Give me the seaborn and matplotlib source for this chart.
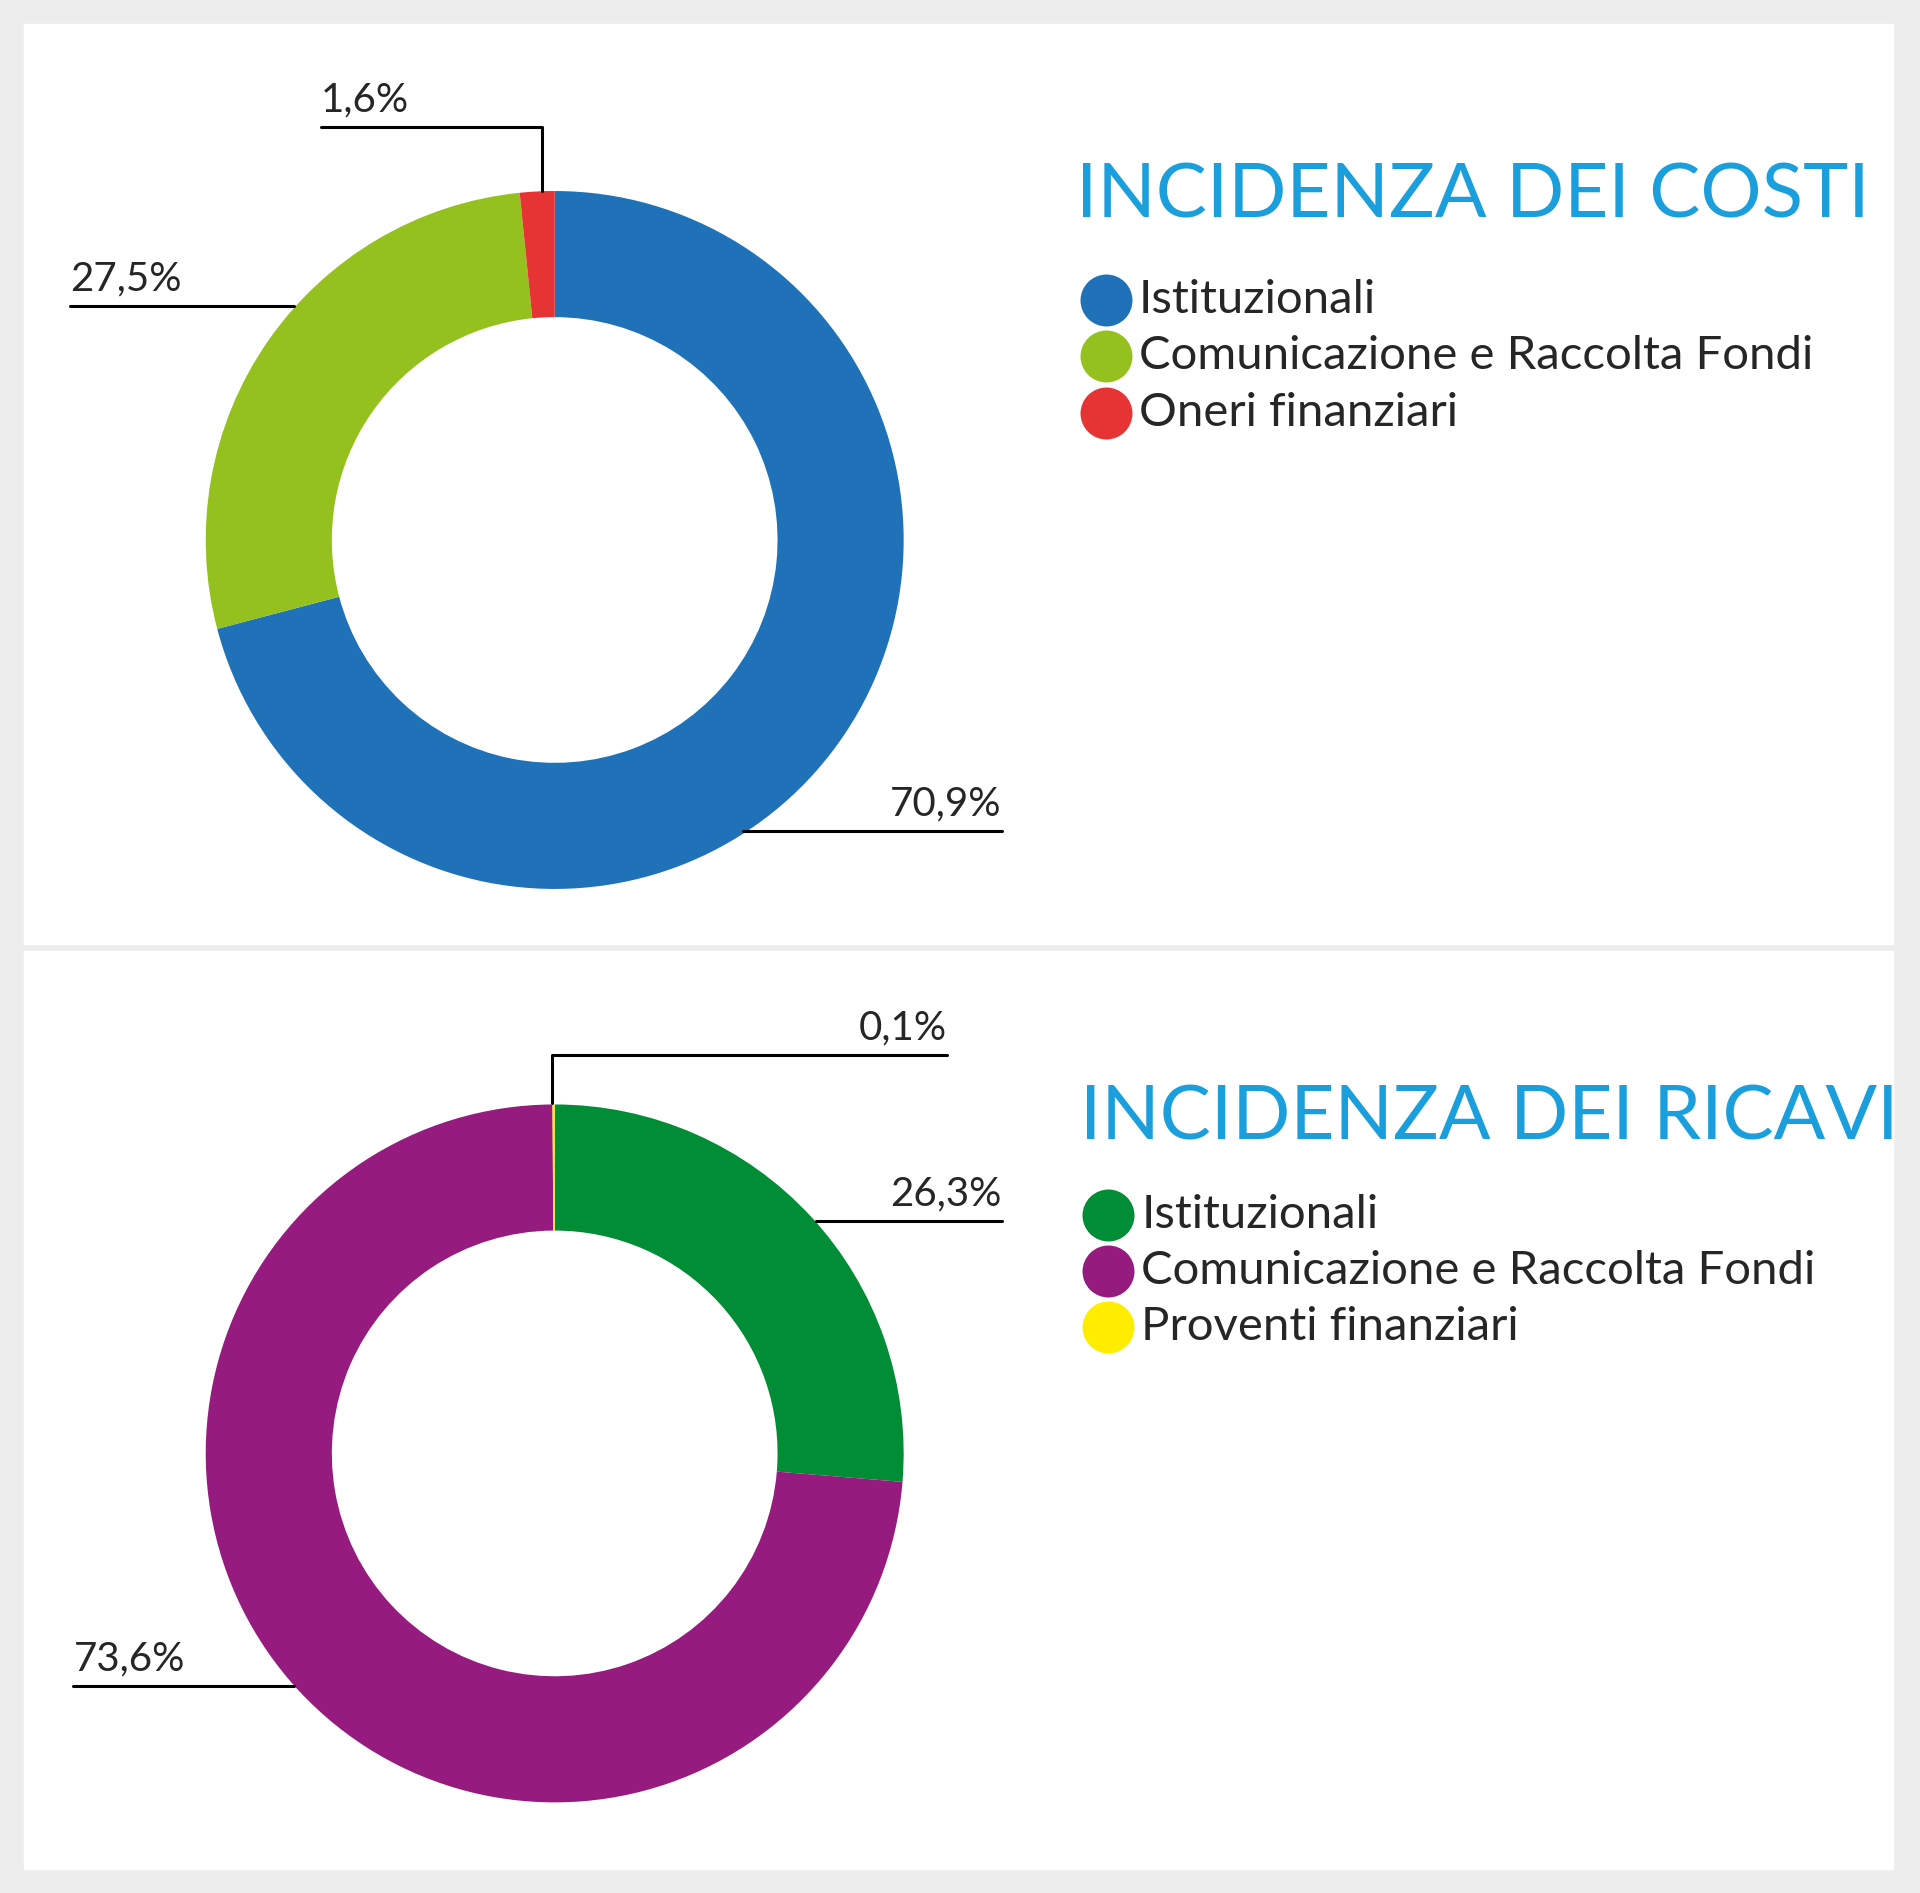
import matplotlib
matplotlib.use("Agg")
import matplotlib.pyplot as plt
import seaborn as sns
from matplotlib.patches import Rectangle

sns.set_theme(style="white")
plt.rcParams["font.family"] = "Lato"

cost_labels = ["Istituzionali", "Comunicazione e Raccolta Fondi", "Oneri finanziari"]
cost_values = [70.9, 27.5, 1.6]
cost_texts = ["70,9%", "27,5%", "1,6%"]
rev_labels = ["Istituzionali", "Comunicazione e Raccolta Fondi", "Proventi finanziari"]
rev_values = [26.3, 73.6, 0.1]
rev_texts = ["26,3%", "73,6%", "0,1%"]
cost_colors = ["#1f72b8", "#95c11f", "#e63434"]
rev_colors = ["#008d36", "#951b7e", "#ffed00"]

W, H = 1568, 1546
fig = plt.figure(figsize=(19.2, 18.93), dpi=100, facecolor="#ededed")
ax = fig.add_axes([0, 0, 1, 1])
ax.set_xlim(0, W); ax.set_ylim(0, H); ax.axis("off")
Y = lambda y: H - y

ax.add_patch(Rectangle((20, Y(771)), 1526, 751, color="white", zorder=0))
ax.add_patch(Rectangle((20, Y(1526)), 1526, 749, color="white", zorder=0))

def donut(cy, vals, cols):
    ax.pie(vals, colors=cols, center=(453, Y(cy)), radius=285, startangle=90,
           counterclock=False, wedgeprops=dict(width=103, linewidth=0), frame=True)

donut(441, cost_values, cost_colors)
donut(1187, rev_values, rev_colors)
ax.set_xlim(0, W); ax.set_ylim(0, H); ax.axis("off"); ax.set_aspect("auto")

def line(pts):
    ax.plot([p[0] for p in pts], [Y(p[1]) for p in pts], color="black", lw=2.2, zorder=5)

fs = 29
line([(262, 104), (443, 104), (443, 156)])
ax.text(262, Y(97), cost_texts[2], fontsize=fs, ha="left", va="bottom")
line([(57, 250), (240, 250)])
ax.text(57, Y(243), cost_texts[1], fontsize=fs, ha="left", va="bottom")
line([(607, 679), (818, 679)])
ax.text(818, Y(672), cost_texts[0], fontsize=fs, ha="right", va="bottom")

line([(451, 901), (451, 862), (773, 862)])
ax.text(773, Y(855), rev_texts[2], fontsize=fs, ha="right", va="bottom")
line([(666, 997), (818, 997)])
ax.text(818, Y(990), rev_texts[0], fontsize=fs, ha="right", va="bottom")
line([(60, 1377), (240, 1377)])
ax.text(60, Y(1370), rev_texts[1], fontsize=fs, ha="left", va="bottom")

def legend(tx, ty, title, labels, cols, mx, y0):
    ax.text(tx, Y(ty), title, fontsize=55, color="#1a9fdc", ha="left", va="center")
    for i, (l, c) in enumerate(zip(labels, cols)):
        yy = y0 + 46 * i
        ax.scatter([mx], [Y(yy)], s=1400, color=c, zorder=5, linewidths=0)
        ax.text(mx + 27, Y(yy), l, fontsize=34, ha="left", va="center")

legend(879, 160, "INCIDENZA DEI COSTI", cost_labels, cost_colors, 903, 245)
legend(882, 913, "INCIDENZA DEI RICAVI", rev_labels, rev_colors, 905, 992)

fig.savefig("out.png", dpi=100, facecolor=fig.get_facecolor())
